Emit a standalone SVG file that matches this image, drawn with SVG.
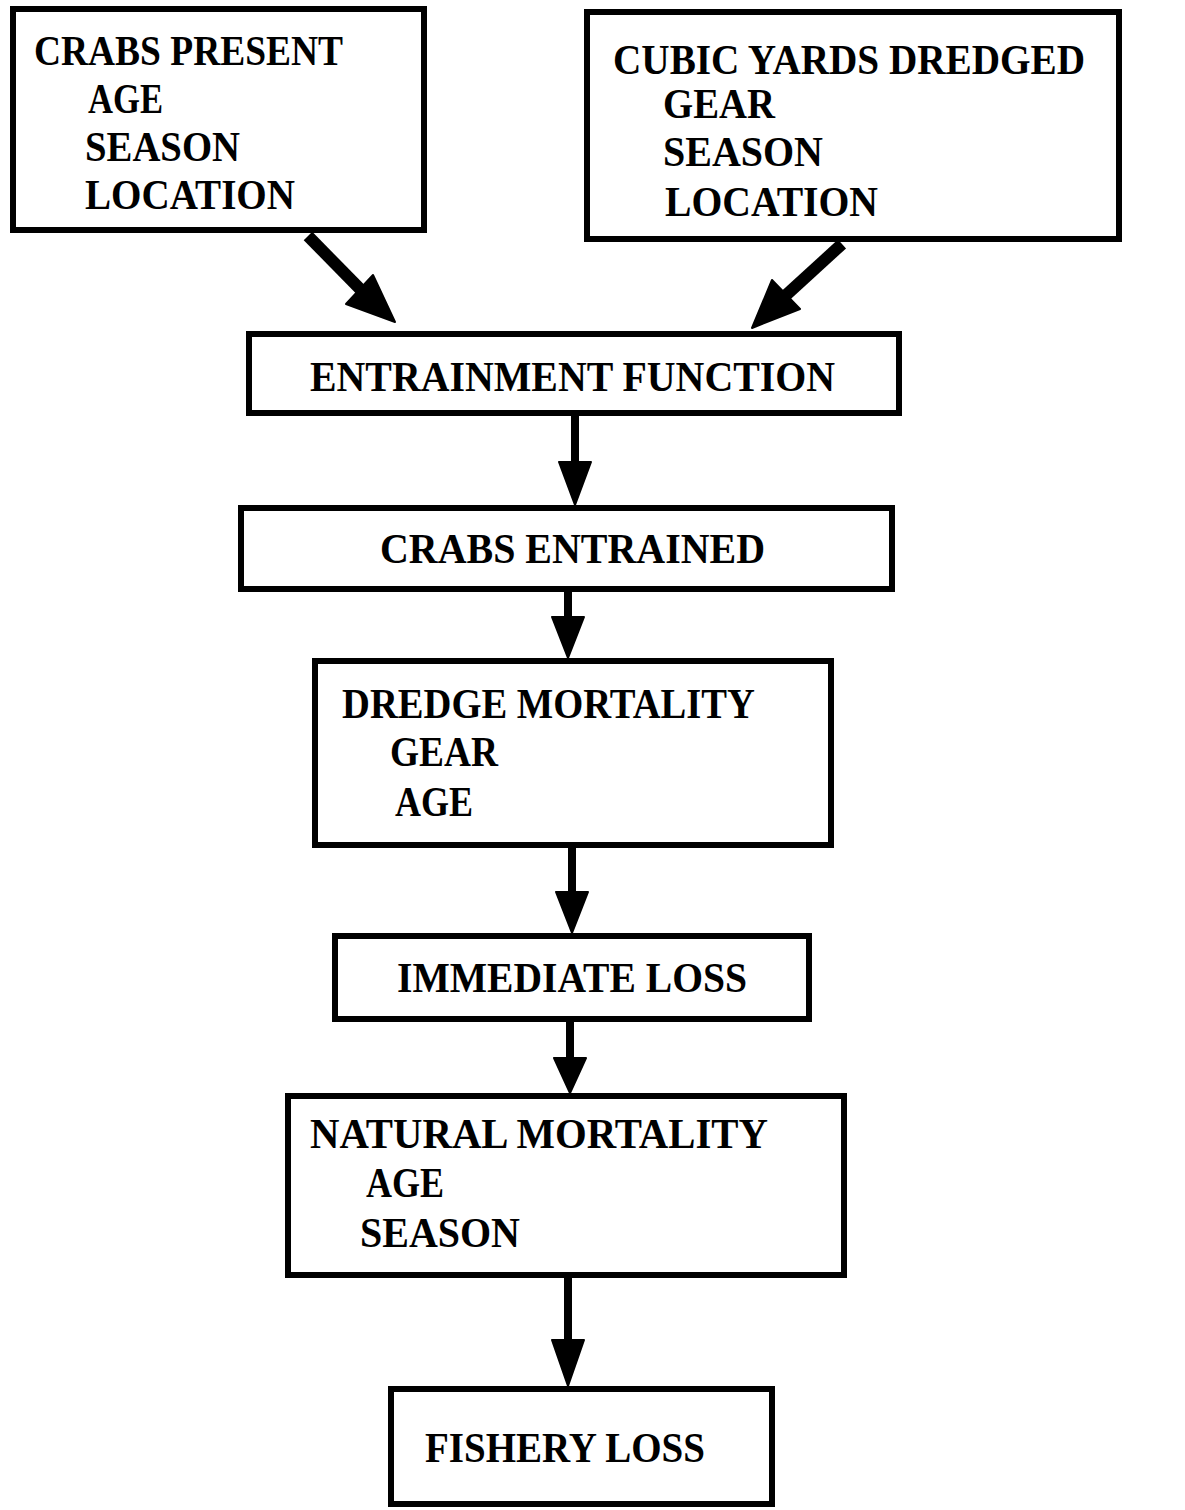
<svg xmlns="http://www.w3.org/2000/svg" width="1185" height="1510" viewBox="0 0 1185 1510">
<style>
.box{fill:#fff;stroke:#000;stroke-width:6}
.t{font-family:"Liberation Serif","Times New Roman",serif;font-weight:bold;font-size:42px;fill:#000}
.shaft{stroke:#000;fill:none}
.head{fill:#000;stroke:#000;stroke-width:2;stroke-linejoin:round}
</style>
<rect width="1185" height="1510" fill="#fff"/>
<g id="connectors">
<line class="shaft" x1="308" y1="236" x2="362" y2="291" stroke-width="12"/>
<polygon class="head" points="395,322 346,304 373,275"/>
<line class="shaft" x1="842" y1="244" x2="784" y2="297" stroke-width="12"/>
<polygon class="head" points="752,328 772,280 800,309"/>
<line class="shaft" x1="575" y1="416" x2="575" y2="470" stroke-width="8"/>
<polygon class="head" points="575,505 559,462 591,462"/>
<line class="shaft" x1="568" y1="592" x2="568" y2="625" stroke-width="8"/>
<polygon class="head" points="568,658 552,617 584,617"/>
<line class="shaft" x1="572" y1="848" x2="572" y2="900" stroke-width="8"/>
<polygon class="head" points="572,933 556,892 588,892"/>
<line class="shaft" x1="570" y1="1022" x2="570" y2="1064" stroke-width="8"/>
<polygon class="head" points="570,1093 554,1058 586,1058"/>
<line class="shaft" x1="568" y1="1278" x2="568" y2="1345" stroke-width="8"/>
<polygon class="head" points="568,1386 552,1340 584,1340"/>
</g>
<g id="crabs-present">
<rect class="box" x="13" y="9" width="411" height="221"/>
<text class="t" x="34" y="65" textLength="309" lengthAdjust="spacingAndGlyphs">CRABS PRESENT</text>
<text class="t" x="88" y="113" textLength="75" lengthAdjust="spacingAndGlyphs">AGE</text>
<text class="t" x="85" y="161" textLength="155" lengthAdjust="spacingAndGlyphs">SEASON</text>
<text class="t" x="85" y="209" textLength="210" lengthAdjust="spacingAndGlyphs">LOCATION</text>
</g>
<g id="cubic-yards">
<rect class="box" x="587" y="12" width="532" height="227"/>
<text class="t" x="613" y="74" textLength="472" lengthAdjust="spacingAndGlyphs">CUBIC YARDS DREDGED</text>
<text class="t" x="663" y="118" textLength="112" lengthAdjust="spacingAndGlyphs">GEAR</text>
<text class="t" x="663" y="166" textLength="160" lengthAdjust="spacingAndGlyphs">SEASON</text>
<text class="t" x="665" y="216" textLength="213" lengthAdjust="spacingAndGlyphs">LOCATION</text>
</g>
<g id="entrainment-function">
<rect class="box" x="249" y="334" width="650" height="79"/>
<text class="t" x="310" y="391" textLength="525" lengthAdjust="spacingAndGlyphs">ENTRAINMENT FUNCTION</text>
</g>
<g id="crabs-entrained">
<rect class="box" x="241" y="508" width="651" height="81"/>
<text class="t" x="380" y="563" textLength="385" lengthAdjust="spacingAndGlyphs">CRABS ENTRAINED</text>
</g>
<g id="dredge-mortality">
<rect class="box" x="315" y="661" width="516" height="184"/>
<text class="t" x="342" y="718" textLength="413" lengthAdjust="spacingAndGlyphs">DREDGE MORTALITY</text>
<text class="t" x="390" y="766" textLength="108" lengthAdjust="spacingAndGlyphs">GEAR</text>
<text class="t" x="395" y="816" textLength="78" lengthAdjust="spacingAndGlyphs">AGE</text>
</g>
<g id="immediate-loss">
<rect class="box" x="335" y="936" width="474" height="83"/>
<text class="t" x="397" y="992" textLength="350" lengthAdjust="spacingAndGlyphs">IMMEDIATE LOSS</text>
</g>
<g id="natural-mortality">
<rect class="box" x="288" y="1096" width="556" height="179"/>
<text class="t" x="310" y="1148" textLength="458" lengthAdjust="spacingAndGlyphs">NATURAL MORTALITY</text>
<text class="t" x="366" y="1197" textLength="78" lengthAdjust="spacingAndGlyphs">AGE</text>
<text class="t" x="360" y="1247" textLength="160" lengthAdjust="spacingAndGlyphs">SEASON</text>
</g>
<g id="fishery-loss">
<rect class="box" x="391" y="1389" width="381" height="115"/>
<text class="t" x="425" y="1462" textLength="280" lengthAdjust="spacingAndGlyphs">FISHERY LOSS</text>
</g>
</svg>
